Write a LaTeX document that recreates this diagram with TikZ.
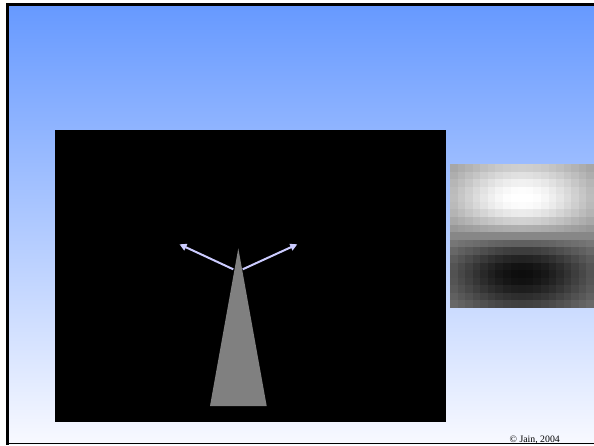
\documentclass[tikz,border=0pt]{standalone}
\usepackage{fontspec}
\setmainfont{Liberation Serif}
\usetikzlibrary{arrows.meta}
\definecolor{slideblue}{RGB}{102,153,255}
\definecolor{slidewhite}{RGB}{248,249,255}
\definecolor{arrowlav}{RGB}{204,204,255}
\definecolor{trigray}{RGB}{128,128,128}
\begin{document}
\begin{tikzpicture}[x=1pt,y=-1pt,
  vec/.style={arrowlav, line width=2pt, -{Triangle[length=7pt,width=7pt]}},
  border/.style={black, line width=2.7pt},
  copytext/.style={anchor=base, inner sep=0pt, font=\fontsize{9.8}{11}\selectfont}]
\useasboundingbox (0,0) rectangle (594,445);
\fill[white] (0,0) rectangle (594,445);
% slide background
\shade[top color=slideblue, bottom color=slidewhite] (7,4) rectangle (594,444);
% slide border
\draw[border, line join=miter] (7.3,444.5) -- (7.3,4.7) -- (594.5,4.7);
\draw[black, line width=1.3pt] (6,443.8) -- (594.5,443.8);
% black image panel
\fill[black] (55,130) rectangle (446,422);
% gray cone
\fill[trigray] (238.3,248.3) -- (266.7,406) -- (210,406) -- cycle;
% arrows
\coordinate (startL) at (233.3,269.3);
\coordinate (tipL) at (179.5,244.3);
\coordinate (startR) at (242.7,269.3);
\coordinate (tipR) at (297.3,244.3);
\draw[vec] (startL) -- (tipL);
\draw[vec] (startR) -- (tipR);
% pixelated derivative-of-gaussian filter
\foreach \i in {0,...,18}{
  \foreach \j in {0,...,18}{
    \pgfmathsetmacro\dx{\i-9}
    \pgfmathsetmacro\dy{9-\j}
    \pgfmathsetmacro\g{(\dy/5)*1.6487*exp(-(\dx*\dx)/98-(\dy*\dy)/50)}
    \pgfmathsetmacro\v{max(0,min(1,0.53+0.48*\g))}
    \definecolor{cellc}{gray}{\v}
    \fill[cellc] (450+\i*7.579,164+\j*7.579) rectangle ++(7.65,7.65);
  }
}
% copyright
\node[copytext] (copy) at (534.7,442.6) {© Jain, 2004};
\end{tikzpicture}
\end{document}
